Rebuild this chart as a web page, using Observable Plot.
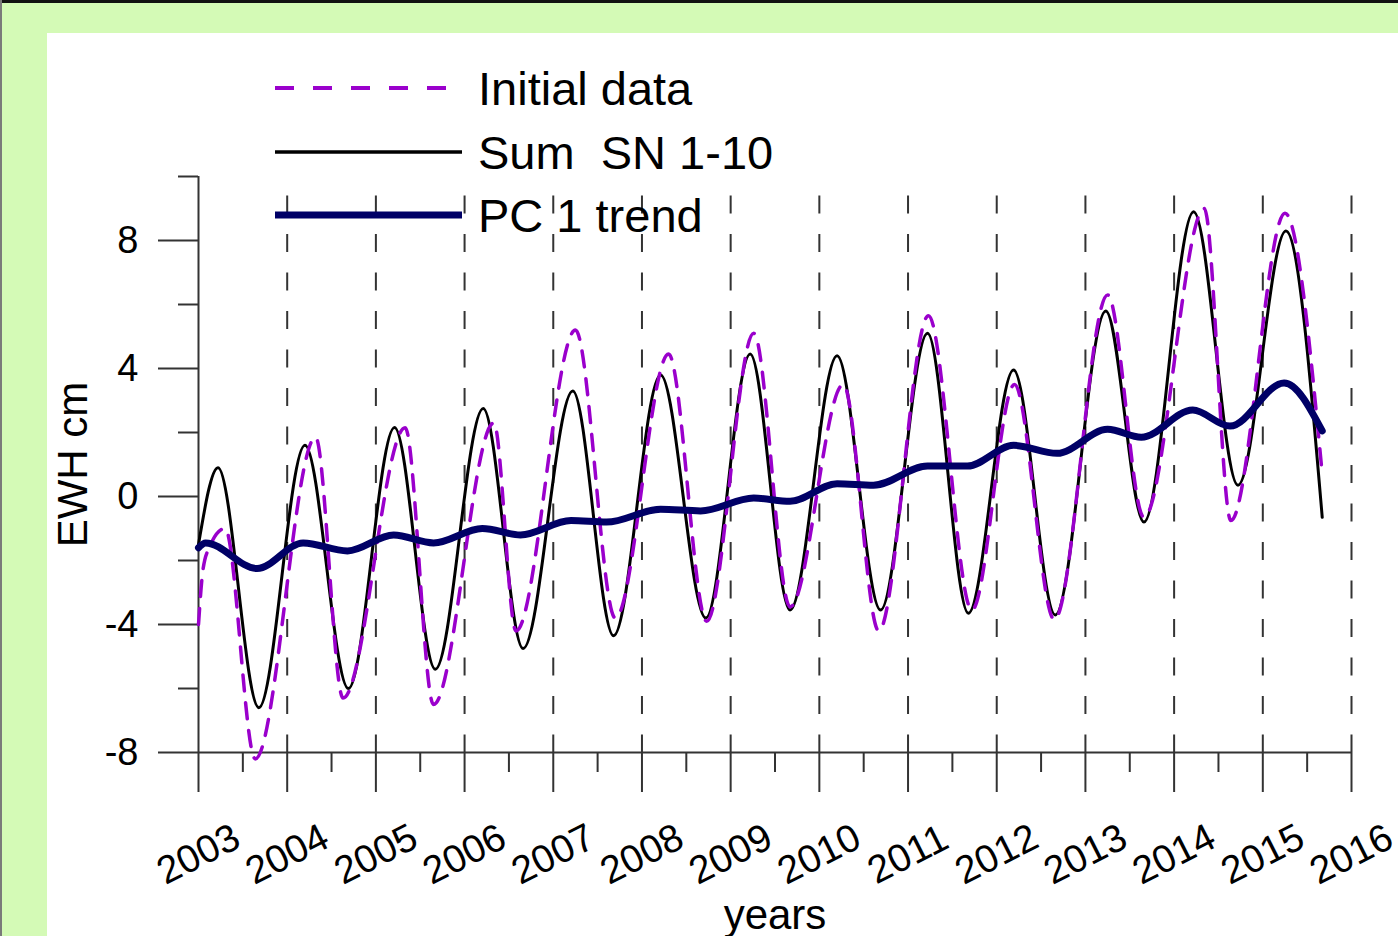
<!DOCTYPE html>
<html><head><meta charset="utf-8">
<script src="https://cdn.jsdelivr.net/npm/d3@7"></script>
<script src="https://cdn.jsdelivr.net/npm/@observablehq/plot@0.6"></script>
<style>
html,body{margin:0;padding:0;overflow:hidden;}
body{width:1398px;height:936px;position:relative;background:#d4fab6;font-family:"Liberation Sans",Arial,sans-serif;}
#topline{position:absolute;left:0;top:0;width:1398px;height:3px;background:#111;}
#leftline{position:absolute;left:0;top:0;width:2px;height:936px;background:#7a7a7a;}
#panel{position:absolute;left:47px;top:33px;right:0;bottom:0;background:#fff;}
#chart{position:absolute;left:0;top:0;}
#legend{position:absolute;left:0;top:0;}
</style></head><body>
<div id="topline"></div><div id="leftline"></div><div id="panel"></div>
<div id="chart"></div>
<svg id="legend" width="1398" height="260"></svg>
<script>
// ---- data ----
const seriesNames = ["Initial data", "Sum  SN 1-10", "PC 1 trend"];

const initialT = [2003.0, 2003.05, 2003.12, 2003.3, 2003.64, 2004.32, 2004.63, 2005.33, 2005.65,
  2006.33, 2006.58, 2007.25, 2007.7, 2008.3, 2008.73, 2009.26, 2009.67, 2010.27, 2010.67,
  2011.23, 2011.72, 2012.2, 2012.65, 2013.25, 2013.66, 2014.34, 2014.64, 2015.25, 2015.67];
const initialV = [-4.0, -2.3, -1.6, -1.0, -8.2, 1.85, -6.3, 2.15, -6.5,
  2.3, -4.2, 5.2, -3.8, 4.45, -3.9, 5.1, -3.45, 3.5, -4.2,
  5.65, -3.55, 3.5, -3.85, 6.3, -0.65, 9.0, -0.75, 8.85, 0.7];

const sumT = [2003.0, 2003.22, 2003.68, 2004.2, 2004.69, 2005.21, 2005.67, 2006.21, 2006.66,
  2007.22, 2007.68, 2008.21, 2008.72, 2009.22, 2009.67, 2010.2, 2010.69, 2011.22, 2011.68,
  2012.19, 2012.66, 2013.23, 2013.66, 2014.22, 2014.72, 2015.26, 2015.67];
const sumV = [-1.5, 0.9, -6.6, 1.6, -6.0, 2.16, -5.4, 2.75, -4.75,
  3.3, -4.35, 3.8, -3.8, 4.45, -3.55, 4.4, -3.55, 5.1, -3.65,
  3.95, -3.7, 5.8, -0.8, 8.9, 0.35, 8.3, -0.65];

const trendT = [2003.0, 2003.08, 2003.66, 2004.18, 2004.68, 2005.2, 2005.65, 2006.2, 2006.63,
  2007.2, 2007.6, 2008.21, 2008.66, 2009.26, 2009.67, 2010.2, 2010.61, 2011.22, 2011.67,
  2012.19, 2012.68, 2013.25, 2013.63, 2014.21, 2014.63, 2015.24, 2015.67];
const trendV = [-1.6, -1.45, -2.25, -1.45, -1.7, -1.2, -1.45, -1.0, -1.2,
  -0.75, -0.8, -0.4, -0.45, -0.05, -0.15, 0.4, 0.35, 0.95, 0.95,
  1.6, 1.35, 2.1, 1.85, 2.7, 2.2, 3.55, 2.05];

const yearTicks = [2003, 2004, 2005, 2006, 2007, 2008, 2009, 2010, 2011, 2012, 2013, 2014, 2015, 2016];
const gridYears = [2004, 2005, 2006, 2007, 2008, 2009, 2010, 2011, 2012, 2013, 2014, 2015, 2016];
const halfYearTicks = [2003.5, 2004.5, 2005.5, 2006.5, 2007.5, 2008.5, 2009.5, 2010.5, 2011.5, 2012.5, 2013.5, 2014.5, 2015.5];
const yMajorTicks = [-8, -4, 0, 4, 8];
const yMinorTicks = [-6, -2, 2, 6, 10];

const colors = {initial: "#9a00cc", sum: "#000000", trend: "#000066", axis: "#333333"};

// ---- tables ----
const initial = initialT.map((t, i) => ({t, v: initialV[i]}));
const sum = sumT.map((t, i) => ({t, v: sumV[i]}));
const trend = trendT.map((t, i) => ({t, v: trendV[i]}));

const font = "Liberation Sans, Arial, sans-serif";

const plot = Plot.plot({
  width: 1398, height: 936,
  marginLeft: 198, marginRight: 47, marginTop: 176, marginBottom: 184,
  x: {domain: [2003, 2016], axis: null},
  y: {domain: [-8, 10], axis: null},
  style: {background: "transparent", fontFamily: font, color: "#000", overflow: "visible"},
  marks: [
    Plot.ruleX(gridYears, {y1: 10, y2: -8, stroke: colors.axis, strokeWidth: 2, strokeDasharray: "18,20.5", strokeDashoffset: 19}),
    Plot.ruleX([2003], {y1: -8, y2: 10, stroke: colors.axis, strokeWidth: 2}),
    Plot.ruleY([-8], {x1: 2003, x2: 2016, stroke: colors.axis, strokeWidth: 2}),
    Plot.axisX({ticks: yearTicks, tickSize: 40, tickFormat: () => "", label: null, stroke: colors.axis, strokeWidth: 2}),
    Plot.axisX({ticks: halfYearTicks, tickSize: 20, tickFormat: () => "", label: null, stroke: colors.axis, strokeWidth: 2}),
    Plot.axisY({ticks: yMajorTicks, tickSize: 40, tickPadding: 20, fontSize: 38, tickFormat: d => String(d), label: null, stroke: colors.axis, strokeWidth: 2, fill: "#000"}),
    Plot.axisY({ticks: yMinorTicks, tickSize: 20, tickFormat: () => "", label: null, stroke: colors.axis, strokeWidth: 2}),
    Plot.text(yearTicks, {x: d => d, frameAnchor: "bottom", dy: 102, text: d => String(d), rotate: -27,
      textAnchor: "middle", lineAnchor: "middle", fontSize: 39, fill: "#000"}),
    Plot.text(["EWH cm"], {frameAnchor: "left", dx: -125, rotate: -90, textAnchor: "middle", lineAnchor: "middle", fontSize: 42, fill: "#000"}),
    Plot.text(["years"], {frameAnchor: "bottom", dy: 176, textAnchor: "middle", lineAnchor: "bottom", fontSize: 42, fill: "#000"}),
    Plot.line(sum, {x: "t", y: "v", stroke: colors.sum, strokeWidth: 3, curve: "monotone-x"}),
    Plot.line(initial, {x: "t", y: "v", stroke: colors.initial, strokeWidth: 3.5, strokeDasharray: "16,12", curve: "monotone-x"}),
    Plot.line(trend, {x: "t", y: "v", stroke: colors.trend, strokeWidth: 7, curve: "monotone-x"})
  ]
});
document.getElementById("chart").appendChild(plot);

// ---- legend ----
const leg = d3.select("#legend");
const items = [
  {name: seriesNames[0], color: colors.initial, width: 4, dash: "19,19", y: 88},
  {name: seriesNames[1], color: colors.sum, width: 3.5, dash: null, y: 152},
  {name: seriesNames[2], color: colors.trend, width: 7, dash: null, y: 215}
];
items.forEach(it => {
  leg.append("line").attr("x1", 275).attr("x2", 462).attr("y1", it.y).attr("y2", it.y)
    .attr("stroke", it.color).attr("stroke-width", it.width)
    .attr("stroke-dasharray", it.dash);
  leg.append("text").attr("x", 478).attr("y", it.y + 17)
    .attr("font-family", font).attr("font-size", 47).attr("fill", "#000")
    .style("white-space", "pre").text(it.name);
});
</script>
</body></html>
